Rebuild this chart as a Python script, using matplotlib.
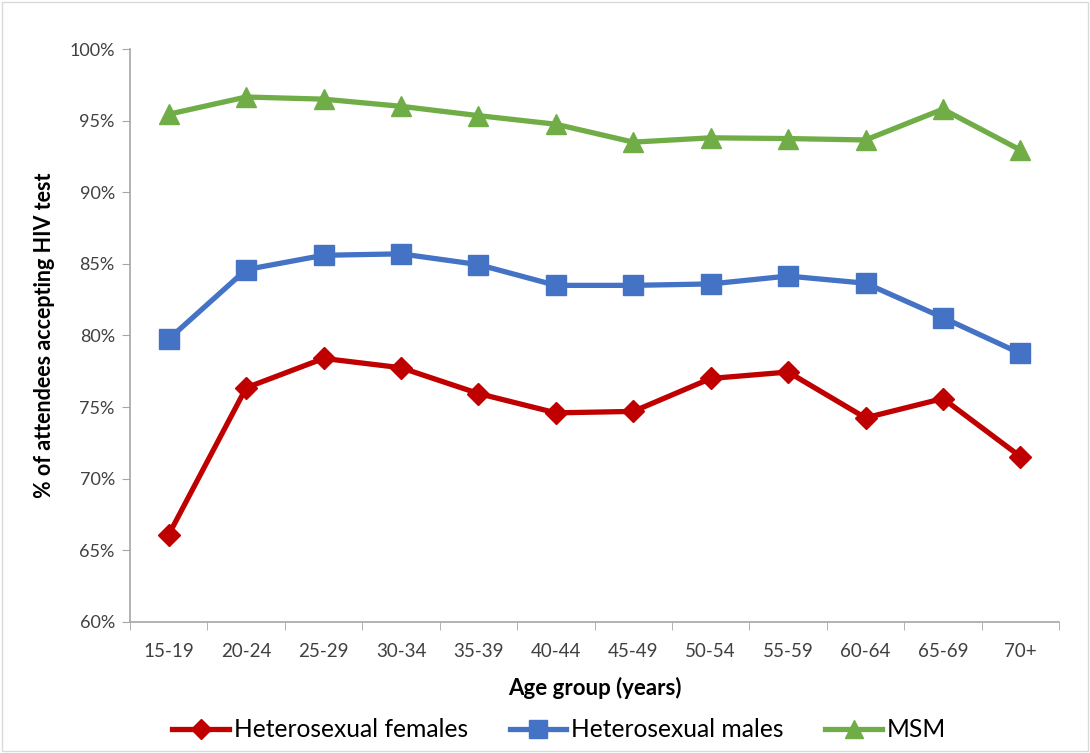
import numpy as np
import matplotlib.pyplot as plt
from matplotlib.ticker import FuncFormatter

plt.rcParams['font.family'] = ['Lato', 'DejaVu Sans']

age_groups = ['15-19', '20-24', '25-29', '30-34', '35-39', '40-44',
              '45-49', '50-54', '55-59', '60-64', '65-69', '70+']

het_females = [66.1, 76.35, 78.4, 77.75, 75.95, 74.6, 74.7, 77.0, 77.45, 74.25, 75.6, 71.55]
het_males = [79.75, 84.6, 85.6, 85.7, 84.95, 83.5, 83.5, 83.6, 84.15, 83.65, 81.25, 78.75]
msm = [95.45, 96.65, 96.5, 96.0, 95.35, 94.75, 93.5, 93.8, 93.75, 93.65, 95.8, 92.95]

fig = plt.figure(figsize=(10.9, 7.53), dpi=100)
ax = fig.add_axes([0.1193, 0.174, 0.8523, 0.7609])

x = np.arange(len(age_groups))
ax.plot(x, het_females, color='#C00000', lw=3.8, marker='D', ms=11,
        label='Heterosexual females')
ax.plot(x, het_males, color='#4472C4', lw=3.8, marker='s', ms=14,
        label='Heterosexual males')
ax.plot(x, msm, color='#70AD47', lw=3.8, marker='^', ms=14,
        label='MSM')

ax.set_xlim(-0.5, len(age_groups) - 0.5)
ax.set_ylim(60, 100)
ax.set_yticks(np.arange(60, 101, 5))
ax.yaxis.set_major_formatter(FuncFormatter(lambda v, p: '%d%%' % v))
ax.set_xticks(x)
ax.set_xticklabels(age_groups)
ax.set_xticks(np.arange(-0.5, len(age_groups)), minor=True)
ax.tick_params(axis='x', which='major', length=0, pad=15, labelsize=13.5)
ax.tick_params(axis='x', which='minor', length=6, color='#A6A6A6')
ax.tick_params(axis='y', length=6, color='#A6A6A6', labelsize=13, pad=5)
for lab in ax.get_xticklabels() + ax.get_yticklabels():
    lab.set_color('#404040')

for s in ['top', 'right']:
    ax.spines[s].set_visible(False)
for s in ['left', 'bottom']:
    ax.spines[s].set_color('#A6A6A6')
    ax.spines[s].set_linewidth(1.2)

ax.set_xlabel('Age group (years)', fontsize=16, fontweight='bold', labelpad=12)
ax.set_ylabel('% of attendees accepting HIV test', fontsize=15.5, fontweight='bold', labelpad=10)

fig.legend(loc='center', bbox_to_anchor=(0.513, 0.031), ncol=3, frameon=False,
           fontsize=17.7, handlelength=2.3, columnspacing=1.7, handletextpad=0.2,
           markerscale=0.9)

# chart border
fig.patches.append(plt.Rectangle((0.002, 0.002), 0.996, 0.996, transform=fig.transFigure,
                                 fill=False, edgecolor='#D9D9D9', lw=1))

fig.savefig('out.png', dpi=100)
